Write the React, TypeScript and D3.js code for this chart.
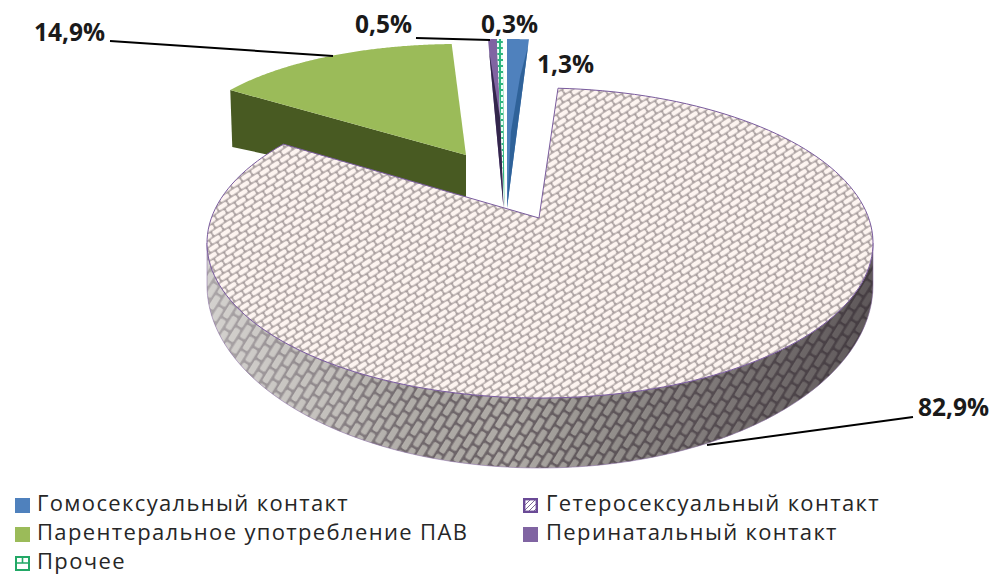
import React, { useMemo } from "react";
import * as d3 from "d3";

const categories = [
  "Гомосексуальный контакт",
  "Гетеросексуальный контакт",
  "Парентеральное употребление ПАВ",
  "Перинатальный контакт",
  "Прочее",
];
const shares = [1.3, 82.9, 14.9, 0.5, 0.3];

type Pt = [number, number];

// Projection of each exploded wedge: the apex, the ellipse its rim lies on and the
// rim's parametric sweep, in degrees.
const wedgeViews = [
  { apex: [507, 208], cx: 507, cy: 149, rx: 268, ry: 110, sweep: [0, 4.7] },
  { apex: [539, 218], cx: 540, cy: 243, rx: 333, ry: 155, sweep: [3.1, 309.6] },
  { apex: [466, 155], cx: 458, cy: 152, rx: 278, ry: 108, sweep: [305, 358.7] },
  { apex: [503.5, 208], cx: 504.4, cy: 149, rx: 285, ry: 110, sweep: [356.7, 358.5] },
  { apex: [504.5, 208], cx: 505, cy: 149, rx: 316, ry: 110, sweep: [358.5, 359.6] },
];
const rimBottom = { cx: 540, cy: 285, rx: 333, ry: 183 };
const greenDepth = 42;

const legendRows = [
  { item: 0, x: 15, y: 498, baseline: 511 },
  { item: 1, x: 523, y: 498, baseline: 511 },
  { item: 2, x: 15, y: 527, baseline: 540 },
  { item: 3, x: 523, y: 527, baseline: 540 },
  { item: 4, x: 15, y: 556, baseline: 568.5 },
];
const labelViews = [
  { item: 0, x: 537, y: 73 },
  { item: 1, x: 918, y: 416 },
  { item: 2, x: 34, y: 41 },
  { item: 3, x: 355, y: 33 },
  { item: 4, x: 481, y: 33 },
];
const leaders: Pt[][] = [
  [[110, 41], [333, 56]],
  [[416, 38], [490, 40]],
  [[913, 417], [707, 445]],
];

const DEG = Math.PI / 180;
const onEllipse = (e: { cx: number; cy: number; rx: number; ry: number }, deg: number): Pt => [
  e.cx + e.rx * Math.sin(deg * DEG),
  e.cy - e.ry * Math.cos(deg * DEG),
];
const lerp = (a: Pt, b: Pt, t: number): Pt => [a[0] + (b[0] - a[0]) * t, a[1] + (b[1] - a[1]) * t];
const rim = (e: any, from: number, to: number, n = 160): Pt[] =>
  d3.range(n + 1).map((i) => onEllipse(e, from + ((to - from) * i) / n));
const path = d3.line<Pt>().x((d) => d[0]).y((d) => d[1]);
const closed = (pts: Pt[]) => path(pts) + "Z";
const labelText = (v: number) => v.toFixed(1).replace(".", ",") + "%";

const FONT = "'Open Sans', 'DejaVu Sans', sans-serif";
const COLORS = ["#4f81bd", "url(#hatchTop)", "#9bbb59", "#8064a2", "url(#dots)"];

export default function App() {
  const wedges = useMemo(() => {
    // Angles come from the shares; each view maps them on to its projected sweep.
    const arcs = d3.pie<number>().sort(null).startAngle(0).endAngle(2 * Math.PI)(shares);
    return arcs.map((a, i) => {
      const v = wedgeViews[i];
      const toSweep = d3.scaleLinear().domain([a.startAngle, a.endAngle]).range(v.sweep);
      const pts = rim(v, toSweep(a.startAngle), toSweep(a.endAngle));
      return { v, pts, apex: v.apex as Pt, first: pts[0], last: pts[pts.length - 1] };
    });
  }, []);

  const [blue, big, green, purple, other] = wedges;
  const sideTop = rim(wedgeViews[1], 90, 270);
  const sideBottom = rim(rimBottom, 270, 90);
  const greenFirstLow: Pt = [green.first[0] + 2, green.first[1] + greenDepth + 15];
  const greenApexLow: Pt = [green.apex[0], green.apex[1] + greenDepth];

  // Darker inner faces of the thin wedges.
  const blueFace: Pt[] = [
    lerp(blue.apex, blue.last, 0.96),
    lerp(blue.apex, blue.last, 0.6),
    blue.apex,
    [lerp(blue.apex, blue.last, 0.45)[0] - 6, lerp(blue.apex, blue.last, 0.45)[1]],
    [lerp(blue.apex, blue.last, 0.78)[0] - 4, lerp(blue.apex, blue.last, 0.78)[1]],
  ];
  const purpleFace: Pt[] = [
    lerp(purple.apex, purple.first, 0.93),
    [lerp(purple.apex, purple.first, 0.52)[0] + 5, lerp(purple.apex, purple.first, 0.52)[1]],
    purple.apex,
    lerp(purple.apex, purple.first, 0.55),
  ];

  return (
    <svg
      width={992}
      height={575}
      viewBox="0 0 992 575"
      style={{ position: "fixed", left: 0, top: 0, display: "block", background: "#fff" }}
    >
      <defs>
        <pattern id="hatchTop" width="12" height="12" patternUnits="userSpaceOnUse" patternTransform="rotate(-33 540 243)">
          <rect width="12" height="12" fill="#a89e9e" />
          <rect x="0.7" y="0.7" width="10.4" height="4.7" rx="1.6" fill="#fdf4f0" />
          <rect x="-5.3" y="6.7" width="10.4" height="4.7" rx="1.6" fill="#fdf4f0" />
          <rect x="6.7" y="6.7" width="10.4" height="4.7" rx="1.6" fill="#fdf4f0" />
        </pattern>
        <pattern id="hatchSide" width="17" height="17" patternUnits="userSpaceOnUse" patternTransform="rotate(-58 540 400)">
          <rect width="17" height="17" fill="#6f666a" />
          <rect x="1" y="1" width="14.6" height="6.2" rx="1.6" fill="#b4b0ab" />
          <rect x="-7.5" y="9.5" width="14.6" height="6.2" rx="1.6" fill="#b4b0ab" />
          <rect x="9.5" y="9.5" width="14.6" height="6.2" rx="1.6" fill="#b4b0ab" />
        </pattern>
        <linearGradient id="sideShade" gradientUnits="userSpaceOnUse" x1="207" y1="0" x2="873" y2="0">
          <stop offset="0" stopColor="#fff" stopOpacity="0.42" />
          <stop offset="0.2" stopColor="#fff" stopOpacity="0.18" />
          <stop offset="0.45" stopColor="#000" stopOpacity="0.02" />
          <stop offset="0.72" stopColor="#2a2228" stopOpacity="0.35" />
          <stop offset="1" stopColor="#2a2228" stopOpacity="0.62" />
        </linearGradient>
        <pattern id="dots" width="4" height="6" patternUnits="userSpaceOnUse">
          <rect width="4" height="6" fill="#2fb67f" />
          <rect x="1" y="1" width="2" height="4" fill="#e8fff4" />
        </pattern>
        <pattern id="legendCross" width="5" height="5" patternUnits="userSpaceOnUse">
          <rect width="5" height="5" fill="#fff" />
          <path d="M0 5L5 0" stroke="#7f6a96" strokeWidth="1" />
        </pattern>
      </defs>

      {/* Parenteral wedge, behind the big slice */}
      <path d={closed([green.first, green.apex, greenApexLow, greenFirstLow])} fill="#485a22" />
      <path d={closed([green.apex, ...green.pts])} fill={COLORS[2]} />

      {/* Thin wedges */}
      <path d={closed([purple.apex, ...purple.pts])} fill={COLORS[3]} />
      <path d={closed(purpleFace)} fill="#33264c" />
      <path d={closed([other.apex, ...other.pts])} fill={COLORS[4]} />
      <path d={closed([blue.apex, ...blue.pts])} fill={COLORS[0]} />
      <path d={closed(blueFace)} fill="#2f6299" />

      {/* Big slice: wall, then top */}
      <path d={closed([...sideTop, ...sideBottom])} fill="url(#hatchSide)" />
      <path d={closed([...sideTop, ...sideBottom])} fill="url(#sideShade)" stroke="#8a6ea6" strokeWidth={0.8} strokeOpacity={0.7} />
      <path d={closed([big.apex, ...big.pts])} fill={COLORS[1]} stroke="#7a5c9e" strokeWidth={1} />

      {leaders.map((l, i) => (
        <path key={i} d={path(l) as string} fill="none" stroke="#000" strokeWidth={2} />
      ))}

      {labelViews.map((l) => (
        <text key={l.item} x={l.x} y={l.y} fontFamily={FONT} fontWeight={700} fontSize={24.5} fill="#1a1a1a">
          {labelText(shares[l.item])}
        </text>
      ))}

      {legendRows.map((r) => (
        <g key={r.item}>
          {r.item === 1 ? (
            <rect x={r.x + 1.2} y={r.y + 1.2} width={12.6} height={12.6} fill="url(#legendCross)" stroke="#6a4a96" strokeWidth={2.4} />
          ) : r.item === 4 ? (
            <g>
              <rect x={r.x + 1} y={r.y + 1} width={13} height={13} fill="#fff" stroke="#22a866" strokeWidth={2} />
              <path d={`M${r.x + 1} ${r.y + 7}H${r.x + 14}M${r.x + 7.5} ${r.y + 1}V${r.y + 7}`} stroke="#22a866" strokeWidth={1.6} />
            </g>
          ) : (
            <rect x={r.x} y={r.y} width={15} height={15} fill={COLORS[r.item]} />
          )}
          <text
            x={r.x + (r.item === 1 || r.item === 3 ? 23 : 22)}
            y={r.baseline}
            fontFamily={FONT}
            fontSize={22}
            letterSpacing={1.35}
            fill="#262626"
          >
            {categories[r.item]}
          </text>
        </g>
      ))}
    </svg>
  );
}
